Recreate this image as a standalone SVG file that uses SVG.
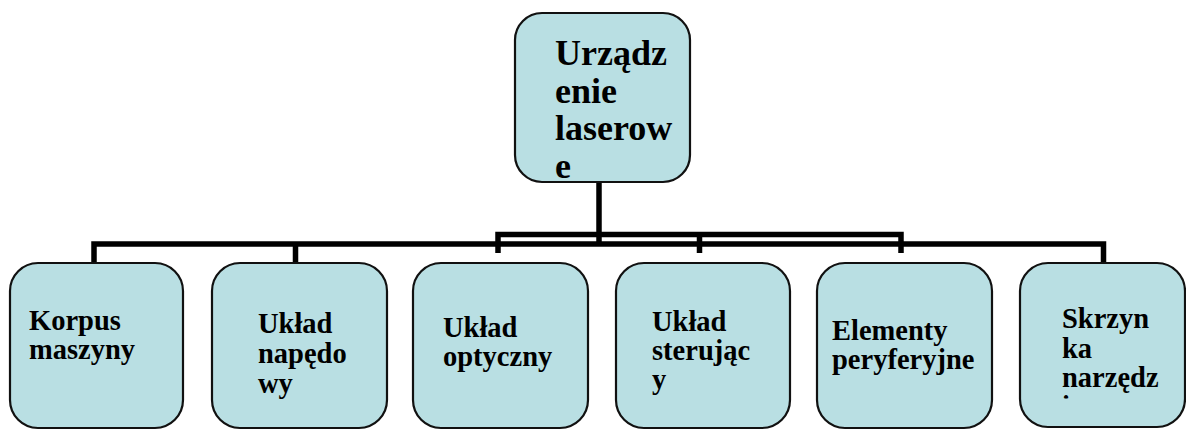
<svg xmlns="http://www.w3.org/2000/svg" width="1186" height="430" viewBox="0 0 1186 430">
<style>
.box{fill:#b9dfe3;stroke:#111;stroke-width:2.2}
.t{font-family:'Liberation Serif','Times New Roman','DejaVu Serif',serif;font-weight:700;fill:#000}
.top{font-size:36px}
.c{font-size:28.5px}
.ln{fill:none;stroke:#000;stroke-width:5.5;stroke-linecap:butt;stroke-linejoin:miter}
</style>
<defs>
<clipPath id="clipTop"><rect x="516" y="14" width="173" height="166.5" rx="26"/></clipPath>
<clipPath id="clip6"><rect x="1020" y="263" width="166" height="135.5"/></clipPath>
</defs>
<rect width="1186" height="430" fill="#fff"/>
<g id="connectors">
<path class="ln" d="M599,182 V244 M94,262 V244 H1103.5 V262 M295.5,244 V262 M498,253 V234.5 H901 V253 M699.5,234.5 V253"/>
</g>
<g id="node-root">
<rect class="box" x="515" y="13" width="175" height="169" rx="27"/>
<text class="t top" clip-path="url(#clipTop)"><tspan x="555" y="65">Urządz</tspan><tspan x="555" y="102.5">enie</tspan><tspan x="555" y="140">laserow</tspan><tspan x="555" y="177.5">e</tspan></text>
</g>
<g id="node-korpus">
<rect class="box" x="10" y="263" width="173" height="165" rx="28"/>
<text class="t c"><tspan x="29" y="330">Korpus</tspan><tspan x="29" y="358.5">maszyny</tspan></text>
</g>
<g id="node-naped">
<rect class="box" x="212" y="263" width="175" height="165" rx="28"/>
<text class="t c"><tspan x="258" y="333">Układ</tspan><tspan x="258" y="363">napędo</tspan><tspan x="258" y="393">wy</tspan></text>
</g>
<g id="node-optyka">
<rect class="box" x="413" y="263" width="175" height="165" rx="28"/>
<text class="t c"><tspan x="443" y="337">Układ</tspan><tspan x="443" y="365.5">optyczny</tspan></text>
</g>
<g id="node-sterowanie">
<rect class="box" x="616" y="263" width="174" height="165" rx="28"/>
<text class="t c"><tspan x="652" y="331">Układ</tspan><tspan x="652" y="360">sterując</tspan><tspan x="652" y="389">y</tspan></text>
</g>
<g id="node-peryferia">
<rect class="box" x="817" y="263" width="175" height="165" rx="28"/>
<text class="t c"><tspan x="832" y="340">Elementy</tspan><tspan x="832" y="368.5">peryferyjne</tspan></text>
</g>
<g id="node-skrzynka">
<rect class="box" x="1020" y="263" width="165" height="164" rx="28"/>
<text class="t c" clip-path="url(#clip6)"><tspan x="1062" y="328">Skrzyn</tspan><tspan x="1062" y="358">ka</tspan><tspan x="1062" y="387">narzędz</tspan><tspan x="1062" y="416">iowa</tspan></text>
</g>
</svg>
